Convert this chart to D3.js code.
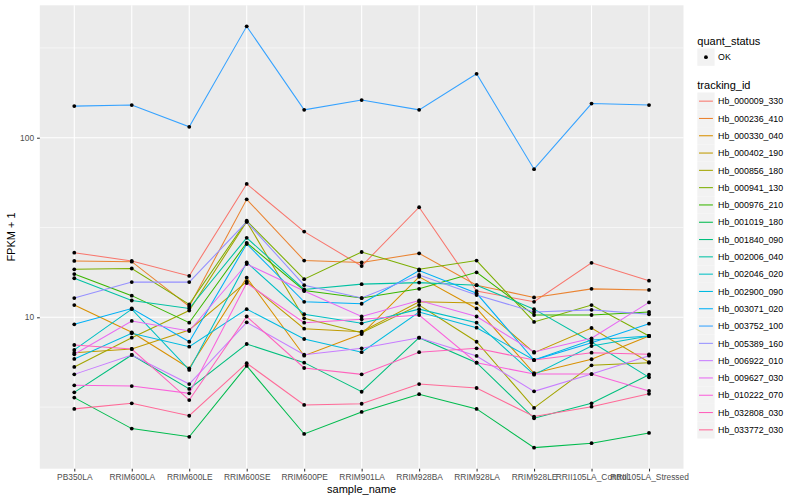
<!DOCTYPE html>
<html>
<head>
<meta charset="utf-8">
<script src="https://cdn.jsdelivr.net/npm/d3@7"></script>
<style>
  body { margin: 0; background: #fff; }
  text { font-family: "Liberation Sans", Arial, sans-serif; }
</style>
</head>
<body>
<svg id="chart" width="800" height="500"></svg>
<script>
// x categories
const samples = ["PB350LA", "RRIM600LA", "RRIM600LE", "RRIM600SE", "RRIM600PE", "RRIM901LA",
  "RRIM928BA", "RRIM928LA", "RRIM928LE", "RRII105LA_Control", "RRII105LA_Stressed"];

const trackingIds = ["Hb_000009_330", "Hb_000236_410", "Hb_000330_040", "Hb_000402_190",
  "Hb_000856_180", "Hb_000941_130", "Hb_000976_210", "Hb_001019_180", "Hb_001840_090",
  "Hb_002006_040", "Hb_002046_020", "Hb_002900_090", "Hb_003071_020", "Hb_003752_100",
  "Hb_005389_160", "Hb_006922_010", "Hb_009627_030", "Hb_010222_070", "Hb_032808_030",
  "Hb_033772_030"];

// FPKM + 1, one row per tracking_id, one value per sample
const fpkm = [
  [22.9, 20.6, 17.0, 55.3, 30.0, 19.3, 41.0, 14.0, 12.2, 20.1, 16.0],
  [20.6, 20.4, 11.5, 45.4, 20.7, 20.2, 22.7, 15.1, 12.9, 14.4, 14.2],
  [11.7, 8.25, 5.2, 16.6, 6.11, 8.07, 16.8, 11.2, 4.88, 5.84, 7.87],
  [6.35, 6.66, 8.5, 15.8, 8.64, 8.31, 12.2, 12.0, 6.35, 8.72, 5.62],
  [5.29, 7.7, 10.9, 34.1, 9.87, 8.2, 11.7, 7.31, 3.13, 5.4, 5.59],
  [18.5, 18.7, 11.8, 34.5, 16.3, 23.1, 18.5, 20.7, 9.42, 11.7, 7.87],
  [17.4, 13.2, 9.33, 26.0, 14.1, 12.8, 14.4, 17.8, 10.3, 10.3, 10.7],
  [3.57, 2.40, 2.16, 5.36, 2.24, 2.97, 3.73, 3.09, 1.88, 1.99, 2.27],
  [3.82, 6.17, 3.99, 7.10, 5.59, 3.85, 7.70, 5.59, 2.74, 3.32, 4.79],
  [16.5, 12.4, 11.2, 27.7, 14.3, 15.3, 15.6, 15.1, 11.1, 7.29, 4.63],
  [6.58, 11.1, 5.09, 20.2, 10.4, 9.26, 11.1, 9.33, 4.79, 6.92, 7.87],
  [5.86, 8.14, 6.86, 11.1, 7.57, 6.39, 10.7, 8.75, 5.78, 7.47, 7.87],
  [9.14, 11.2, 7.31, 25.6, 12.2, 11.9, 18.2, 13.6, 5.78, 7.22, 9.21],
  [150, 152, 115, 417, 143, 162, 143, 227, 66.8, 155, 152],
  [12.8, 15.7, 15.7, 34.0, 15.1, 12.8, 17.2, 13.3, 10.7, 11.0, 10.4],
  [4.81, 6.17, 4.25, 9.38, 6.19, 6.72, 7.70, 6.09, 3.87, 4.83, 6.11],
  [6.22, 9.54, 8.39, 19.8, 14.0, 10.1, 12.4, 10.1, 6.41, 7.64, 12.1],
  [4.18, 4.14, 3.77, 15.5, 9.33, 9.75, 10.3, 5.59, 4.83, 4.83, 3.89],
  [7.01, 6.66, 3.46, 10.1, 5.22, 4.81, 6.39, 6.72, 5.78, 6.35, 6.22],
  [3.09, 3.32, 2.83, 5.55, 3.25, 3.30, 4.25, 4.04, 2.80, 3.18, 3.75]
];

const yTicks = [10, 100];
const yMinor = [Math.pow(10, 0.5), Math.pow(10, 1.5), Math.pow(10, 2.5)];
const statusLevels = ["OK"];

// ggplot hue palette for 20 levels
const palette = ["#F8766D", "#EA8331", "#D89000", "#C09B00", "#A3A500", "#7CAE00", "#39B600",
  "#00BB4E", "#00BF7D", "#00C1A3", "#00BFC4", "#00BAE0", "#00B0F6", "#35A2FF", "#9590FF",
  "#C77CFF", "#E76BF3", "#FA62DB", "#FF62BC", "#FF6A98"];

const margin = { top: 5.3, right: 116.5, bottom: 31.3, left: 39.8 },
  width = 800 - margin.left - margin.right,
  height = 500 - margin.top - margin.bottom;

const svg = d3.select("#chart");
const g = svg.append("g").attr("transform", `translate(${margin.left},${margin.top})`);

// scales
const x = d3.scalePoint().domain(samples).range([0, width]).padding(0.6);

const all = fpkm.flat();
const lo = Math.log10(d3.min(all)), hi = Math.log10(d3.max(all));
const pad = (hi - lo) * 0.05;
const y = d3.scaleLog().domain([Math.pow(10, lo - pad), Math.pow(10, hi + pad)]).range([height, 0]);

const color = d3.scaleOrdinal().domain(trackingIds).range(palette);

// panel
g.append("rect").attr("width", width).attr("height", height).attr("fill", "#EBEBEB");

g.selectAll("line.minor").data(yMinor).enter().append("line")
  .attr("x1", 0).attr("x2", width)
  .attr("y1", d => y(d)).attr("y2", d => y(d))
  .attr("stroke", "#fff").attr("stroke-width", 0.55);

g.selectAll("line.ymajor").data(yTicks).enter().append("line")
  .attr("x1", 0).attr("x2", width)
  .attr("y1", d => y(d)).attr("y2", d => y(d))
  .attr("stroke", "#fff").attr("stroke-width", 1.1);

g.selectAll("line.xmajor").data(samples).enter().append("line")
  .attr("x1", d => x(d)).attr("x2", d => x(d))
  .attr("y1", 0).attr("y2", height)
  .attr("stroke", "#fff").attr("stroke-width", 1.1);

// lines
const line = d3.line().x((d, i) => x(samples[i])).y(d => y(d));
g.selectAll("path.series").data(fpkm).enter().append("path")
  .attr("fill", "none")
  .attr("stroke", (d, i) => color(trackingIds[i]))
  .attr("stroke-width", 1.05)
  .attr("d", line);

// points
fpkm.forEach(row => {
  g.selectAll(null).data(row).enter().append("circle")
    .attr("cx", (d, i) => x(samples[i]))
    .attr("cy", d => y(d))
    .attr("r", 1.9)
    .attr("fill", "#000");
});

// axes
const xAxis = g.append("g").attr("transform", `translate(0,${height})`)
  .call(d3.axisBottom(x).tickSize(2.75).tickPadding(3));
const yAxis = g.append("g")
  .call(d3.axisLeft(y).tickValues(yTicks).tickFormat(d3.format("d")).tickSize(2.75).tickPadding(3));
[xAxis, yAxis].forEach(a => {
  a.select(".domain").remove();
  a.selectAll(".tick line").attr("stroke", "#333333").attr("stroke-width", 1.05);
  a.selectAll(".tick text").attr("fill", "#4D4D4D").style("font-size", "8.4px")
    .style("font-family", '"Liberation Sans", Arial, sans-serif');
});

svg.append("text")
  .attr("x", margin.left + width / 2).attr("y", 493)
  .attr("text-anchor", "middle").style("font-size", "11px").attr("fill", "#000")
  .text("sample_name");

svg.append("text")
  .attr("transform", `translate(15,${margin.top + height / 2}) rotate(-90)`)
  .attr("text-anchor", "middle").style("font-size", "11px").attr("fill", "#000")
  .text("FPKM + 1");

// legends
const lx = 697.3, keySize = 17.3;
const leg = svg.append("g");

leg.append("text").attr("x", lx).attr("y", 44.5).style("font-size", "11px").text("quant_status");
statusLevels.forEach((s, i) => {
  const ky = 48.5 + i * keySize;
  leg.append("rect").attr("x", lx).attr("y", ky).attr("width", keySize).attr("height", keySize)
    .attr("fill", "#F2F2F2");
  leg.append("circle").attr("cx", lx + keySize / 2).attr("cy", ky + keySize / 2).attr("r", 1.9)
    .attr("fill", "#000");
  leg.append("text").attr("x", lx + keySize + 3.5).attr("y", ky + keySize / 2 + 3.2)
    .style("font-size", "8.8px").text(s);
});

leg.append("text").attr("x", lx).attr("y", 88.5).style("font-size", "11px").text("tracking_id");
trackingIds.forEach((t, i) => {
  const ky = 92.5 + i * keySize;
  leg.append("rect").attr("x", lx).attr("y", ky).attr("width", keySize).attr("height", keySize)
    .attr("fill", "#F2F2F2");
  leg.append("line").attr("x1", lx + 1.7).attr("x2", lx + keySize - 1.7)
    .attr("y1", ky + keySize / 2).attr("y2", ky + keySize / 2)
    .attr("stroke", color(t)).attr("stroke-width", 1.05);
  leg.append("text").attr("x", lx + keySize + 3.5).attr("y", ky + keySize / 2 + 3.2)
    .style("font-size", "8.8px").text(t);
});
</script>
</body>
</html>
